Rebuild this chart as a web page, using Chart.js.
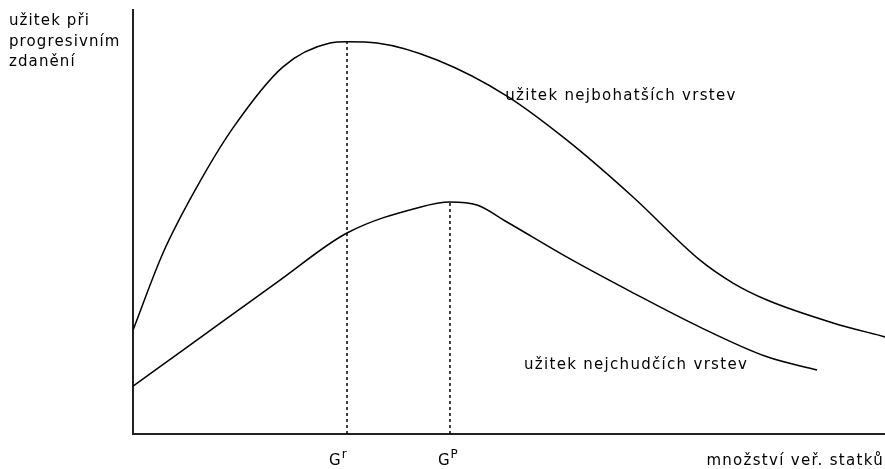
<!DOCTYPE html>
<html><head><meta charset="utf-8">
<script src="https://cdn.jsdelivr.net/npm/chart.js@4"></script>
<style>html,body{margin:0;padding:0;background:#fff;}canvas{display:block;}</style>
</head><body>
<canvas id="c" width="885" height="469"></canvas>
<script>
// Curve of the richest strata (x: quantity of public goods, y: utility)
const richX = [0, 3.99, 8.51, 13.3, 19.95, 26.2, 28.46, 32.45, 40.43, 49.73, 57.71, 66.49, 75.4, 79.79, 84.31, 93.09, 100];
const richY = [24.5, 42.7, 58.3, 72.2, 86.6, 92.2, 92.5, 92.2, 88.2, 79.7, 69.3, 55.9, 41.0, 35.6, 31.6, 26.2, 22.9];
// Curve of the poorest strata
const poorX = [0, 6.65, 12.9, 19.55, 28.46, 38.16, 42.15, 45.74, 49.73, 57.71, 66.49, 75.4, 84.31, 90.96];
const poorY = [11.3, 19.8, 27.8, 36.3, 47.4, 53.5, 54.7, 54.0, 50.0, 41.7, 33.3, 25.2, 18.2, 15.1];
// Optimum markers (x) and the curve heights they reach (y)
const markX = [28.46, 42.15];
const markTop = [92.5, 54.7];
const markBase = ['G', 'G'];
const markSup = ['r', 'P'];
const yTitle = ['užitek při', 'progresivním', 'zdanění'];
const xTitle = 'množství veř. statků';
const curveLabels = ['užitek nejbohatších vrstev', 'užitek nejchudčích vrstev'];
const curveLabelX = [49.5, 52.0];
const curveLabelY = [78.8, 15.3];

const pts = (xs, ys) => xs.map((x, i) => ({x, y: ys[i]}));
const INK = '#000';
const FONT = '"DejaVu Sans", sans-serif';

const datasets = [
  {data: pts(richX, richY), borderColor: INK, borderWidth: 1.5, pointRadius: 0, cubicInterpolationMode: 'monotone', fill: false},
  {data: pts(poorX, poorY), borderColor: INK, borderWidth: 1.5, pointRadius: 0, cubicInterpolationMode: 'monotone', fill: false}
];
markX.forEach((mx, i) => datasets.push({
  data: [{x: mx, y: 0}, {x: mx, y: markTop[i]}],
  borderColor: INK, borderWidth: 1.5, borderDash: [3, 3], pointRadius: 0, tension: 0, fill: false
}));

const textPlugin = {
  id: 'texts',
  afterDraw(chart) {
    const ctx = chart.ctx;
    const xs = chart.scales.x, ys = chart.scales.y;
    ctx.save();
    ctx.fillStyle = INK;
    ctx.textBaseline = 'alphabetic';
    ctx.font = '15px ' + FONT;
    ctx.letterSpacing = '1.1px';
    ctx.textAlign = 'left';
    const yBase = [25, 45.5, 66];
    yTitle.forEach((t, i) => ctx.fillText(t, 9, yBase[i]));
    ctx.letterSpacing = '1.3px';
    curveLabels.forEach((t, i) => ctx.fillText(t, xs.getPixelForValue(curveLabelX[i]), ys.getPixelForValue(curveLabelY[i])));
    ctx.textAlign = 'right';
    ctx.fillText(xTitle, chart.width - 1, ys.getPixelForValue(0) + 31);
    ctx.textAlign = 'left';
    ctx.letterSpacing = '0px';
    const offs = [-18, -12];
    markX.forEach((mx, i) => {
      const px = xs.getPixelForValue(mx) + offs[i];
      const base = ys.getPixelForValue(0) + 31;
      ctx.font = '15px ' + FONT;
      ctx.fillText(markBase[i], px, base);
      const w = ctx.measureText(markBase[i]).width;
      ctx.font = '12px ' + FONT;
      ctx.fillText(markSup[i], px + w + 1, base - 7);
    });
    ctx.restore();
  }
};

new Chart(document.getElementById('c'), {
  type: 'line',
  data: {datasets},
  options: {
    responsive: false,
    animation: false,
    layout: {padding: {left: 133, right: 0, top: 10, bottom: 35}},
    plugins: {legend: {display: false}, tooltip: {enabled: false}},
    scales: {
      x: {type: 'linear', min: 0, max: 100, grid: {display: false, drawTicks: false}, ticks: {display: false}, border: {display: true, color: '#222', width: 2}},
      y: {type: 'linear', min: 0, max: 100, grid: {display: false, drawTicks: false}, ticks: {display: false}, border: {display: true, color: '#222', width: 2}}
    }
  },
  plugins: [textPlugin]
});
</script>
</body></html>
